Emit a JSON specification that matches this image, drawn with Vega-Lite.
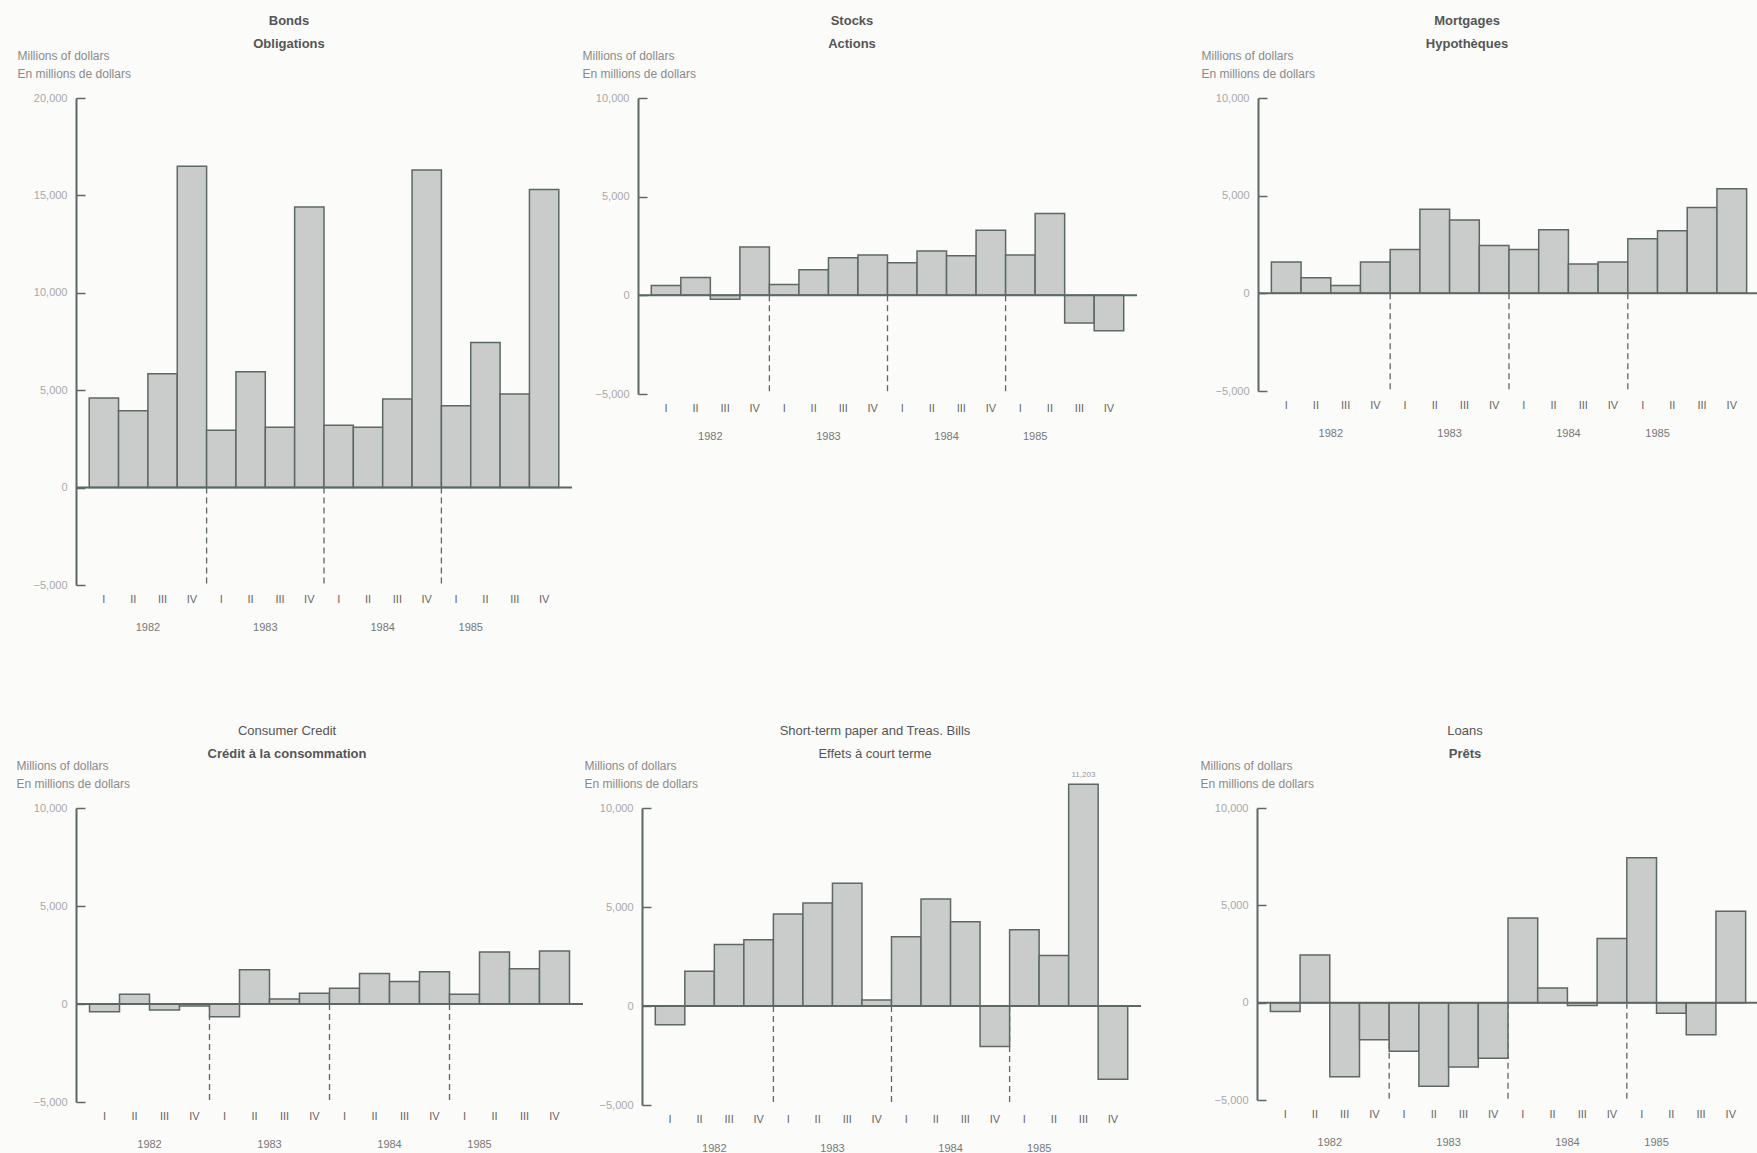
{
  "$schema": "https://vega.github.io/schema/vega-lite/v6.json",
  "background": "#fbfbfa",
  "padding": {"left": 16, "top": 15, "right": 0, "bottom": 0},
  "config": {
    "font": "Liberation Sans",
    "view": {"stroke": null},
    "axisX": {"domain": false, "ticks": false, "labelExpr": "split(datum.value, ' ')[1]", "labelAngle": 0, "labelColor": "#666666", "labelFontSize": 11, "labelPadding": 8, "grid": false},
    "axisY": {"grid": false, "domainColor": "#5d6864", "domainWidth": 2, "tickColor": "#5d6864", "tickWidth": 1.5, "tickSize": -9, "labelColor": "#a8a8a8", "labelFontSize": 11, "labelPadding": 18, "format": ",d", "titleAngle": 0, "titleAlign": "left", "titleBaseline": "bottom", "titleFontWeight": "normal", "titleFontSize": 12, "titleColor": "#8a8a8a", "titleLineHeight": 18, "titleY": -36},
    "title": {"anchor": "middle", "frame": "bounds", "fontSize": 13, "color": "#555555", "subtitleFontSize": 13, "subtitleColor": "#555555", "subtitlePadding": 10, "offset": -2}
  },
  "datasets": {
    "dividers": [{"q": "1983 I"}, {"q": "1984 I"}, {"q": "1985 I"}],
    "years": [{"q": "1982 III", "year": "1982"}, {"q": "1983 III", "year": "1983"}, {"q": "1984 III", "year": "1984"}, {"q": "1985 II", "year": "1985"}],
    "baseline": [{"v": 0}],
    "note": [{"q": "1985 III", "v": 11203, "label": "11,203"}],
    "bonds": [{"q":"1982 I","v":4600},{"q":"1982 II","v":3950},{"q":"1982 III","v":5850},{"q":"1982 IV","v":16500},{"q":"1983 I","v":2950},{"q":"1983 II","v":5950},{"q":"1983 III","v":3100},{"q":"1983 IV","v":14400},{"q":"1984 I","v":3200},{"q":"1984 II","v":3100},{"q":"1984 III","v":4550},{"q":"1984 IV","v":16300},{"q":"1985 I","v":4200},{"q":"1985 II","v":7450},{"q":"1985 III","v":4800},{"q":"1985 IV","v":15300}],
    "stocks": [{"q":"1982 I","v":500},{"q":"1982 II","v":900},{"q":"1982 III","v":-200},{"q":"1982 IV","v":2450},{"q":"1983 I","v":550},{"q":"1983 II","v":1300},{"q":"1983 III","v":1900},{"q":"1983 IV","v":2050},{"q":"1984 I","v":1650},{"q":"1984 II","v":2250},{"q":"1984 III","v":2000},{"q":"1984 IV","v":3300},{"q":"1985 I","v":2050},{"q":"1985 II","v":4150},{"q":"1985 III","v":-1400},{"q":"1985 IV","v":-1800}],
    "mortgages": [{"q":"1982 I","v":1600},{"q":"1982 II","v":800},{"q":"1982 III","v":400},{"q":"1982 IV","v":1600},{"q":"1983 I","v":2250},{"q":"1983 II","v":4300},{"q":"1983 III","v":3750},{"q":"1983 IV","v":2450},{"q":"1984 I","v":2250},{"q":"1984 II","v":3250},{"q":"1984 III","v":1500},{"q":"1984 IV","v":1600},{"q":"1985 I","v":2800},{"q":"1985 II","v":3200},{"q":"1985 III","v":4400},{"q":"1985 IV","v":5350}],
    "consumer": [{"q":"1982 I","v":-400},{"q":"1982 II","v":500},{"q":"1982 III","v":-300},{"q":"1982 IV","v":-100},{"q":"1983 I","v":-650},{"q":"1983 II","v":1750},{"q":"1983 III","v":250},{"q":"1983 IV","v":550},{"q":"1984 I","v":800},{"q":"1984 II","v":1550},{"q":"1984 III","v":1150},{"q":"1984 IV","v":1650},{"q":"1985 I","v":500},{"q":"1985 II","v":2650},{"q":"1985 III","v":1800},{"q":"1985 IV","v":2700}],
    "shortterm": [{"q":"1982 I","v":-950},{"q":"1982 II","v":1750},{"q":"1982 III","v":3100},{"q":"1982 IV","v":3350},{"q":"1983 I","v":4650},{"q":"1983 II","v":5200},{"q":"1983 III","v":6200},{"q":"1983 IV","v":300},{"q":"1984 I","v":3500},{"q":"1984 II","v":5400},{"q":"1984 III","v":4250},{"q":"1984 IV","v":-2050},{"q":"1985 I","v":3850},{"q":"1985 II","v":2550},{"q":"1985 III","v":11203},{"q":"1985 IV","v":-3700}],
    "loans": [{"q":"1982 I","v":-450},{"q":"1982 II","v":2450},{"q":"1982 III","v":-3800},{"q":"1982 IV","v":-1900},{"q":"1983 I","v":-2500},{"q":"1983 II","v":-4300},{"q":"1983 III","v":-3300},{"q":"1983 IV","v":-2850},{"q":"1984 I","v":4350},{"q":"1984 II","v":750},{"q":"1984 III","v":-150},{"q":"1984 IV","v":3300},{"q":"1985 I","v":7450},{"q":"1985 II","v":-550},{"q":"1985 III","v":-1650},{"q":"1985 IV","v":4700}]
  },
  "spacing": 92,
  "vconcat": [
    {
      "spacing": 63,
      "hconcat": [
        {
          "spacing": 9,
          "hconcat": [
            {
              "width": 496, "height": 487,
              "title": {"text": "Bonds", "subtitle": "Obligations", "fontWeight": "bold", "subtitleFontWeight": "bold", "dx": -6},
              "layer": [
                {"data": {"name": "dividers"}, "mark": {"type": "rule", "strokeDash": [6, 4], "color": "#5d6864", "strokeWidth": 1.3},
                 "encoding": {"x": {"field": "q", "type": "ordinal", "bandPosition": 0, "scale": {"domain": ["1982 I","1982 II","1982 III","1982 IV","1983 I","1983 II","1983 III","1983 IV","1984 I","1984 II","1984 III","1984 IV","1985 I","1985 II","1985 III","1985 IV"], "paddingInner": 0, "paddingOuter": 0.45}, "axis": {"title": null}},
                  "y": {"datum": 0, "type": "quantitative", "scale": {"domain": [-5000, 20000], "nice": false}, "axis": {"values": [-5000, 0, 5000, 10000, 15000, 20000], "title": ["Millions of dollars", "En millions de dollars"], "titleX": -59}}, "y2": {"datum": -5000}}},
                {"data": {"name": "bonds"}, "mark": {"type": "bar", "fill": "#c9ccca", "stroke": "#5d6864", "strokeWidth": 1.5},
                 "encoding": {"x": {"field": "q", "type": "ordinal"}, "y": {"field": "v", "type": "quantitative"}}},
                {"data": {"name": "baseline"}, "mark": {"type": "rule", "color": "#5d6864", "strokeWidth": 2}, "encoding": {"y": {"field": "v", "type": "quantitative"}}},
                {"data": {"name": "years"}, "mark": {"type": "text", "fontSize": 11, "color": "#777777"}, "encoding": {"x": {"field": "q", "type": "ordinal", "bandPosition": 0}, "y": {"datum": -7200}, "text": {"field": "year"}}}
              ]
            },
            {
              "width": 499, "height": 296,
              "title": {"text": "Stocks", "subtitle": "Actions", "fontWeight": "bold", "subtitleFontWeight": "bold", "dx": -8},
              "layer": [
                {"data": {"name": "dividers"}, "mark": {"type": "rule", "strokeDash": [6, 4], "color": "#5d6864", "strokeWidth": 1.3},
                 "encoding": {"x": {"field": "q", "type": "ordinal", "bandPosition": 0, "scale": {"domain": ["1982 I","1982 II","1982 III","1982 IV","1983 I","1983 II","1983 III","1983 IV","1984 I","1984 II","1984 III","1984 IV","1985 I","1985 II","1985 III","1985 IV"], "paddingInner": 0, "paddingOuter": 0.45}, "axis": {"title": null}},
                  "y": {"datum": 0, "type": "quantitative", "scale": {"domain": [-5000, 10000], "nice": false}, "axis": {"values": [-5000, 0, 5000, 10000], "title": ["Millions of dollars", "En millions de dollars"], "titleX": -56}}, "y2": {"datum": -5000}}},
                {"data": {"name": "stocks"}, "mark": {"type": "bar", "fill": "#c9ccca", "stroke": "#5d6864", "strokeWidth": 1.5},
                 "encoding": {"x": {"field": "q", "type": "ordinal"}, "y": {"field": "v", "type": "quantitative"}}},
                {"data": {"name": "baseline"}, "mark": {"type": "rule", "color": "#5d6864", "strokeWidth": 2}, "encoding": {"y": {"field": "v", "type": "quantitative"}}},
                {"data": {"name": "years"}, "mark": {"type": "text", "fontSize": 11, "color": "#777777"}, "encoding": {"x": {"field": "q", "type": "ordinal", "bandPosition": 0}, "y": {"datum": -7200}, "text": {"field": "year"}}}
              ]
            }
          ]
        },
        {
          "width": 502, "height": 293,
          "title": {"text": "Mortgages", "subtitle": "Hypothèques", "fontWeight": "bold", "subtitleFontWeight": "bold", "dx": -14},
          "layer": [
            {"data": {"name": "dividers"}, "mark": {"type": "rule", "strokeDash": [6, 4], "color": "#5d6864", "strokeWidth": 1.3},
             "encoding": {"x": {"field": "q", "type": "ordinal", "bandPosition": 0, "scale": {"domain": ["1982 I","1982 II","1982 III","1982 IV","1983 I","1983 II","1983 III","1983 IV","1984 I","1984 II","1984 III","1984 IV","1985 I","1985 II","1985 III","1985 IV"], "paddingInner": 0, "paddingOuter": 0.45}, "axis": {"title": null}},
              "y": {"datum": 0, "type": "quantitative", "scale": {"domain": [-5000, 10000], "nice": false}, "axis": {"values": [-5000, 0, 5000, 10000], "title": ["Millions of dollars", "En millions de dollars"], "titleX": -57}}, "y2": {"datum": -5000}}},
            {"data": {"name": "mortgages"}, "mark": {"type": "bar", "fill": "#c9ccca", "stroke": "#5d6864", "strokeWidth": 1.5},
             "encoding": {"x": {"field": "q", "type": "ordinal"}, "y": {"field": "v", "type": "quantitative"}}},
            {"data": {"name": "baseline"}, "mark": {"type": "rule", "color": "#5d6864", "strokeWidth": 2}, "encoding": {"y": {"field": "v", "type": "quantitative"}}},
            {"data": {"name": "years"}, "mark": {"type": "text", "fontSize": 11, "color": "#777777"}, "encoding": {"x": {"field": "q", "type": "ordinal", "bandPosition": 0}, "y": {"datum": -7200}, "text": {"field": "year"}}}
          ]
        }
      ]
    },
    {
      "spacing": 58,
      "hconcat": [
        {
          "spacing": 0,
          "hconcat": [
            {
              "width": 507, "height": 294,
              "title": {"text": "Consumer Credit", "subtitle": "Crédit à la consommation", "fontWeight": "normal", "subtitleFontWeight": "bold", "dx": -13},
              "layer": [
                {"data": {"name": "dividers"}, "mark": {"type": "rule", "strokeDash": [6, 4], "color": "#5d6864", "strokeWidth": 1.3},
                 "encoding": {"x": {"field": "q", "type": "ordinal", "bandPosition": 0, "scale": {"domain": ["1982 I","1982 II","1982 III","1982 IV","1983 I","1983 II","1983 III","1983 IV","1984 I","1984 II","1984 III","1984 IV","1985 I","1985 II","1985 III","1985 IV"], "paddingInner": 0, "paddingOuter": 0.45}, "axis": {"title": null}},
                  "y": {"datum": 0, "type": "quantitative", "scale": {"domain": [-5000, 10000], "nice": false}, "axis": {"values": [-5000, 0, 5000, 10000], "title": ["Millions of dollars", "En millions de dollars"], "titleX": -60}}, "y2": {"datum": -5000}}},
                {"data": {"name": "consumer"}, "mark": {"type": "bar", "fill": "#c9ccca", "stroke": "#5d6864", "strokeWidth": 1.5},
                 "encoding": {"x": {"field": "q", "type": "ordinal"}, "y": {"field": "v", "type": "quantitative"}}},
                {"data": {"name": "baseline"}, "mark": {"type": "rule", "color": "#5d6864", "strokeWidth": 2}, "encoding": {"y": {"field": "v", "type": "quantitative"}}},
                {"data": {"name": "years"}, "mark": {"type": "text", "fontSize": 11, "color": "#777777"}, "encoding": {"x": {"field": "q", "type": "ordinal", "bandPosition": 0}, "y": {"datum": -7200}, "text": {"field": "year"}}}
              ]
            },
            {
              "width": 499, "height": 297,
              "title": {"text": "Short-term paper and Treas. Bills", "subtitle": "Effets à court terme", "fontWeight": "normal", "subtitleFontWeight": "normal", "dx": 12},
              "layer": [
                {"data": {"name": "dividers"}, "mark": {"type": "rule", "strokeDash": [6, 4], "color": "#5d6864", "strokeWidth": 1.3},
                 "encoding": {"x": {"field": "q", "type": "ordinal", "bandPosition": 0, "scale": {"domain": ["1982 I","1982 II","1982 III","1982 IV","1983 I","1983 II","1983 III","1983 IV","1984 I","1984 II","1984 III","1984 IV","1985 I","1985 II","1985 III","1985 IV"], "paddingInner": 0, "paddingOuter": 0.45}, "axis": {"title": null}},
                  "y": {"datum": 0, "type": "quantitative", "scale": {"domain": [-5000, 10000], "nice": false}, "axis": {"values": [-5000, 0, 5000, 10000], "title": ["Millions of dollars", "En millions de dollars"], "titleX": -58}}, "y2": {"datum": -5000}}},
                {"data": {"name": "shortterm"}, "mark": {"type": "bar", "fill": "#c9ccca", "stroke": "#5d6864", "strokeWidth": 1.5},
                 "encoding": {"x": {"field": "q", "type": "ordinal"}, "y": {"field": "v", "type": "quantitative"}}},
                {"data": {"name": "baseline"}, "mark": {"type": "rule", "color": "#5d6864", "strokeWidth": 2}, "encoding": {"y": {"field": "v", "type": "quantitative"}}},
                {"data": {"name": "note"}, "mark": {"type": "text", "fontSize": 8, "color": "#999999", "dy": -9}, "encoding": {"x": {"field": "q", "type": "ordinal"}, "y": {"field": "v", "type": "quantitative"}, "text": {"field": "label"}}},
                {"data": {"name": "years"}, "mark": {"type": "text", "fontSize": 11, "color": "#777777"}, "encoding": {"x": {"field": "q", "type": "ordinal", "bandPosition": 0}, "y": {"datum": -7200}, "text": {"field": "year"}}}
              ]
            }
          ]
        },
        {
          "width": 502, "height": 292,
          "title": {"text": "Loans", "subtitle": "Prêts", "fontWeight": "normal", "subtitleFontWeight": "bold", "dx": -15},
          "layer": [
            {"data": {"name": "dividers"}, "mark": {"type": "rule", "strokeDash": [6, 4], "color": "#5d6864", "strokeWidth": 1.3},
             "encoding": {"x": {"field": "q", "type": "ordinal", "bandPosition": 0, "scale": {"domain": ["1982 I","1982 II","1982 III","1982 IV","1983 I","1983 II","1983 III","1983 IV","1984 I","1984 II","1984 III","1984 IV","1985 I","1985 II","1985 III","1985 IV"], "paddingInner": 0, "paddingOuter": 0.45}, "axis": {"title": null}},
              "y": {"datum": 0, "type": "quantitative", "scale": {"domain": [-5000, 10000], "nice": false}, "axis": {"values": [-5000, 0, 5000, 10000], "title": ["Millions of dollars", "En millions de dollars"], "titleX": -57}}, "y2": {"datum": -5000}}},
            {"data": {"name": "loans"}, "mark": {"type": "bar", "fill": "#c9ccca", "stroke": "#5d6864", "strokeWidth": 1.5},
             "encoding": {"x": {"field": "q", "type": "ordinal"}, "y": {"field": "v", "type": "quantitative"}}},
            {"data": {"name": "baseline"}, "mark": {"type": "rule", "color": "#5d6864", "strokeWidth": 2}, "encoding": {"y": {"field": "v", "type": "quantitative"}}},
            {"data": {"name": "years"}, "mark": {"type": "text", "fontSize": 11, "color": "#777777"}, "encoding": {"x": {"field": "q", "type": "ordinal", "bandPosition": 0}, "y": {"datum": -7200}, "text": {"field": "year"}}}
          ]
        }
      ]
    }
  ]
}
